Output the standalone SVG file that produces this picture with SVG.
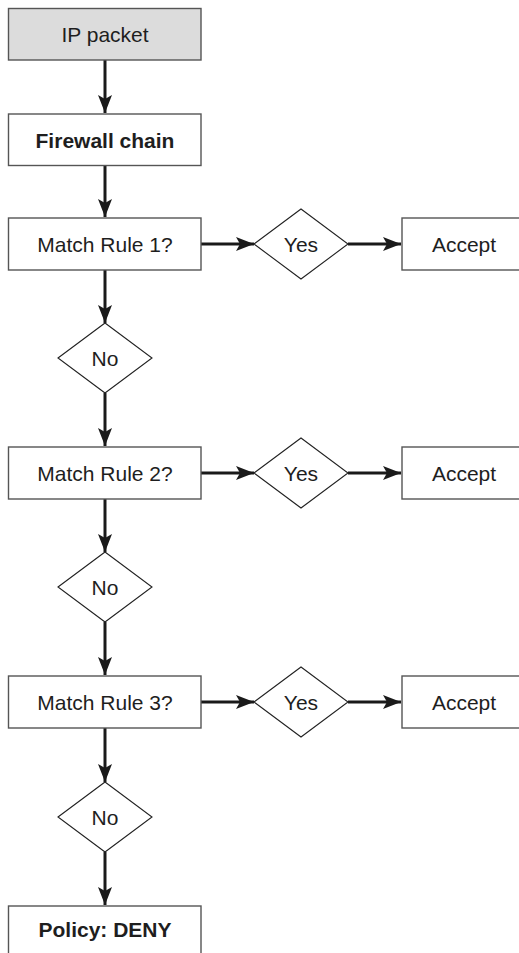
<svg xmlns="http://www.w3.org/2000/svg" width="519" height="953" viewBox="0 0 519 953">
<style>
.box{fill:#fff;stroke:#555;stroke-width:1.4}
.start{fill:#dcdcdc;stroke:#555;stroke-width:1.4}
.dia{fill:#fff;stroke:#222;stroke-width:1.1}
.t{font-family:"Liberation Sans",Arial,sans-serif;font-size:21px;fill:#1e1e1e;text-anchor:middle;dominant-baseline:central}
.b{font-weight:bold}
.c{stroke:#1a1a1a;stroke-width:3;fill:none;marker-end:url(#ah)}
</style>
<defs>
<marker id="ah" markerUnits="userSpaceOnUse" markerWidth="19" markerHeight="14" refX="18" refY="7" orient="auto">
<path d="M0,0 L18,7 L0,14 L4,7 Z" fill="#1a1a1a"/>
</marker>
</defs>
<rect width="519" height="953" fill="#fff"/>
<g id="connectors">
<line class="c" x1="105" y1="60" x2="105" y2="113"/>
<line class="c" x1="105" y1="165" x2="105" y2="217"/>
<line class="c" x1="105" y1="270" x2="105" y2="323"/>
<line class="c" x1="105" y1="393" x2="105" y2="446"/>
<line class="c" x1="105" y1="499" x2="105" y2="552"/>
<line class="c" x1="105" y1="622" x2="105" y2="675"/>
<line class="c" x1="105" y1="728" x2="105" y2="782"/>
<line class="c" x1="105" y1="852" x2="105" y2="905"/>
<line class="c" x1="201" y1="244" x2="254" y2="244"/>
<line class="c" x1="348" y1="244" x2="401" y2="244"/>
<line class="c" x1="201" y1="473" x2="254" y2="473"/>
<line class="c" x1="348" y1="473" x2="401" y2="473"/>
<line class="c" x1="201" y1="702" x2="254" y2="702"/>
<line class="c" x1="348" y1="702" x2="401" y2="702"/>
</g>
<g id="ip-packet"><rect class="start" x="8.5" y="8.5" width="192.5" height="51.5"/><text class="t" x="105" y="34">IP packet</text></g>
<g id="firewall-chain"><rect class="box" x="8.5" y="114" width="192.5" height="51.5"/><text class="t b" x="105" y="140">Firewall chain</text></g>
<g id="rule1"><rect class="box" x="8.5" y="218" width="192.5" height="52"/><text class="t" x="105" y="244">Match Rule 1?</text></g>
<g id="yes1"><polygon class="dia" points="254,244 301,209 348,244 301,279"/><text class="t" x="301" y="244">Yes</text></g>
<g id="accept1"><rect class="box" x="402" y="218" width="124" height="52"/><text class="t" x="464" y="244">Accept</text></g>
<g id="no1"><polygon class="dia" points="58,358 105,323 152,358 105,393"/><text class="t" x="105" y="358">No</text></g>
<g id="rule2"><rect class="box" x="8.5" y="447" width="192.5" height="52"/><text class="t" x="105" y="473">Match Rule 2?</text></g>
<g id="yes2"><polygon class="dia" points="254,473 301,438 348,473 301,508"/><text class="t" x="301" y="473">Yes</text></g>
<g id="accept2"><rect class="box" x="402" y="447" width="124" height="52"/><text class="t" x="464" y="473">Accept</text></g>
<g id="no2"><polygon class="dia" points="58,587 105,552 152,587 105,622"/><text class="t" x="105" y="587">No</text></g>
<g id="rule3"><rect class="box" x="8.5" y="676" width="192.5" height="52"/><text class="t" x="105" y="702">Match Rule 3?</text></g>
<g id="yes3"><polygon class="dia" points="254,702 301,667 348,702 301,737"/><text class="t" x="301" y="702">Yes</text></g>
<g id="accept3"><rect class="box" x="402" y="676" width="124" height="52"/><text class="t" x="464" y="702">Accept</text></g>
<g id="no3"><polygon class="dia" points="58,817 105,782 152,817 105,852"/><text class="t" x="105" y="817">No</text></g>
<g id="policy"><rect class="box" x="8.5" y="906" width="192.5" height="60"/><text class="t b" x="105" y="929">Policy: DENY</text></g>
</svg>
